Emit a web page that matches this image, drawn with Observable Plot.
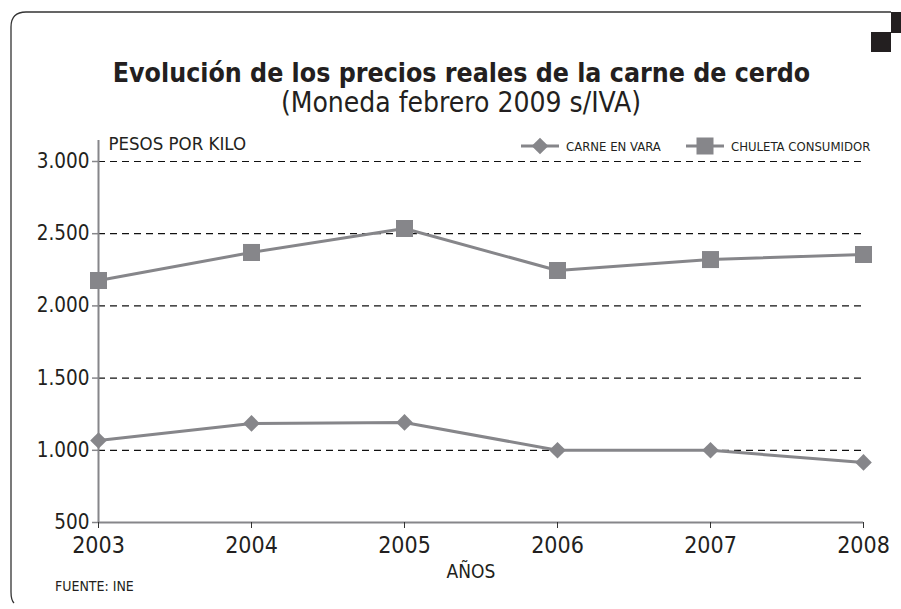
<!DOCTYPE html>
<html>
<head>
<meta charset="utf-8">
<script src="https://cdn.jsdelivr.net/npm/d3@7"></script>
<script src="https://cdn.jsdelivr.net/npm/@observablehq/plot@0.6"></script>
<style>
  html, body { margin: 0; padding: 0; background: #fff; }
  #chart { width: 901px; height: 609px; }
  svg, svg text { font-family: "Liberation Sans Narrow", "DejaVu Sans Condensed", "DejaVu Sans", sans-serif; font-stretch: condensed; }
</style>
</head>
<body>
<div id="chart"></div>
<script>
const years = [2003, 2004, 2005, 2006, 2007, 2008];
const carneEnVara = [1068, 1186, 1193, 1000, 1000, 916];
const chuletaConsumidor = [2176, 2370, 2536, 2245, 2321, 2356];
const seriesNames = ["CARNE EN VARA", "CHULETA CONSUMIDOR"];
const yTicks = [500, 1000, 1500, 2000, 2500, 3000];
const gridValues = [1000, 1500, 2000, 2500, 3000];
const title = "Evolución de los precios reales de la carne de cerdo";
const subtitle = "(Moneda febrero 2009 s/IVA)";
const yLabel = "PESOS POR KILO";
const xLabel = "AÑOS";
const source = "FUENTE: INE";

const carne = years.map((y, i) => ({year: y, value: carneEnVara[i]}));
const chuleta = years.map((y, i) => ({year: y, value: chuletaConsumidor[i]}));

const gray = "#86868a";
const ink = "#231f20";
const fmt = d => d3.format(",")(d).replace(/,/g, ".");

const W = 901, H = 609;
const chart = Plot.plot({
  width: W, height: H,
  marginLeft: 98, marginRight: 38, marginTop: 161, marginBottom: 87,
  style: {background: "white"},
  x: {domain: [2003, 2008], type: "linear"},
  y: {domain: [500, 3000]},
  marks: [
    Plot.ruleY(gridValues, {stroke: "#111", strokeWidth: 1.2, strokeDasharray: "7,5"}),
    Plot.ruleY([500], {x1: 2003, x2: 2008, stroke: gray, strokeWidth: 2}),
    Plot.ruleX([2003], {y1: 500, y2: 3145, stroke: gray, strokeWidth: 2}),
    Plot.axisY({ticks: yTicks, tickFormat: fmt, tickSize: 6, tickPadding: 3, stroke: gray, strokeWidth: 1.5, fontSize: 20.5, fill: ink, label: null}),
    Plot.axisX({ticks: years, tickFormat: "d", tickSize: 6, tickPadding: 8, stroke: "#333", fontSize: 23, fill: ink, label: null}),
    Plot.line(carne, {x: "year", y: "value", stroke: gray, strokeWidth: 3}),
    Plot.line(chuleta, {x: "year", y: "value", stroke: gray, strokeWidth: 3}),
    Plot.dot(carne, {x: "year", y: "value", symbol: "diamond2", r: 7.5, fill: gray, stroke: "none"}),
    Plot.dot(chuleta, {x: "year", y: "value", symbol: "square", r: 9.6, fill: gray, stroke: "none"}),
    Plot.text([yLabel], {frameAnchor: "top-left", dx: 10, dy: -25, textAnchor: "start", fontSize: 18.5, fill: ink}),
    Plot.text([xLabel], {frameAnchor: "bottom", dx: -10, dy: 55, fontSize: 19, fill: ink})
  ]
});
document.getElementById("chart").appendChild(chart);

const svg = d3.select(chart);
// frame
svg.append("path")
  .attr("d", "M891,12 L26,12 Q11,12 11,27 L11,592 Q11,600 14,603")
  .attr("fill", "none").attr("stroke", "#333").attr("stroke-width", 1.3);
svg.append("rect").attr("x", 891).attr("y", 12).attr("width", 10).attr("height", 21).attr("fill", ink);
svg.append("rect").attr("x", 871).attr("y", 32).attr("width", 20).attr("height", 20).attr("fill", ink);
// titles
svg.append("text").attr("x", 461.5).attr("y", 82).attr("text-anchor", "middle")
  .attr("font-size", 26.5).attr("font-weight", "bold").attr("fill", ink).text(title);
svg.append("text").attr("x", 461).attr("y", 112).attr("text-anchor", "middle")
  .attr("font-size", 28).attr("fill", ink).text(subtitle);
// source
svg.append("text").attr("x", 55).attr("y", 591).attr("text-anchor", "start")
  .attr("font-size", 14).attr("fill", ink).text(source);
// legend
const lg = svg.append("g");
const items = [
  {x: 521, name: seriesNames[0], sym: d3.symbolDiamond2, size: Math.PI * 7.5 * 7.5},
  {x: 686, name: seriesNames[1], sym: d3.symbolSquare, size: Math.PI * 9.6 * 9.6}
];
items.forEach(it => {
  lg.append("line").attr("x1", it.x).attr("x2", it.x + 38).attr("y1", 146).attr("y2", 146)
    .attr("stroke", gray).attr("stroke-width", 3);
  lg.append("path").attr("d", d3.symbol(it.sym, it.size)()).attr("transform", `translate(${it.x + 19},146)`).attr("fill", gray);
  lg.append("text").attr("x", it.x + 45).attr("y", 151).attr("text-anchor", "start")
    .attr("font-size", 13).attr("fill", ink).text(it.name);
});
</script>
</body>
</html>
